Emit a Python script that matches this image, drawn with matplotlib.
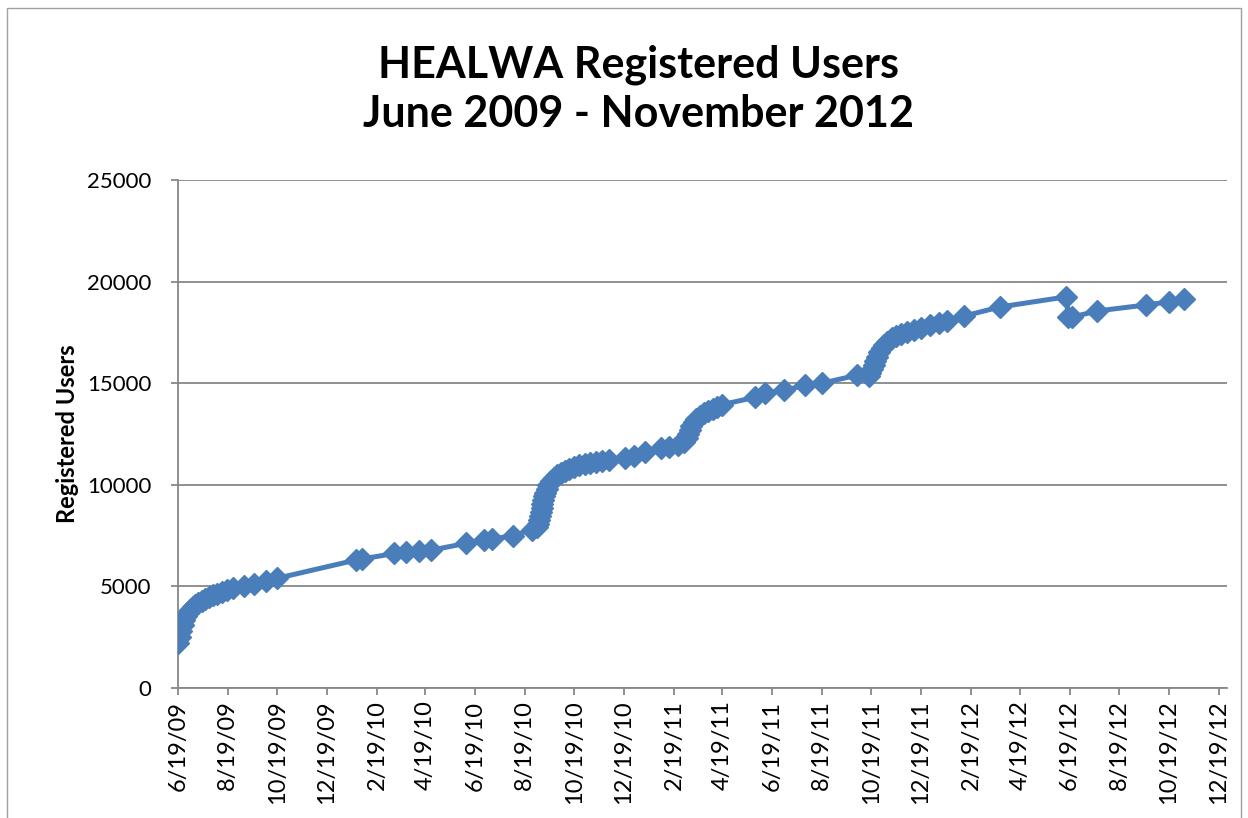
import matplotlib
matplotlib.use("Agg")
import matplotlib.pyplot as plt
import pandas as pd
from matplotlib.patches import Rectangle

# registration counts
dates = [
    "2009-06-19", "2009-06-21", "2009-06-23", "2009-06-25", "2009-06-27", "2009-06-29",
    "2009-07-01", "2009-07-04", "2009-07-07", "2009-07-10", "2009-07-14", "2009-07-18",
    "2009-07-22", "2009-07-27", "2009-08-01", "2009-08-06", "2009-08-12", "2009-08-18",
    "2009-08-26", "2009-09-08", "2009-09-20", "2009-10-05", "2009-10-19",
    "2010-01-24", "2010-01-31", "2010-03-12", "2010-03-26", "2010-04-11", "2010-04-26",
    "2010-06-08", "2010-06-30", "2010-07-10", "2010-08-05", "2010-08-28", "2010-09-03",
    "2010-09-05", "2010-09-06", "2010-09-07", "2010-09-08", "2010-09-09", "2010-09-10",
    "2010-09-11", "2010-09-12", "2010-09-13", "2010-09-15", "2010-09-17", "2010-09-20",
    "2010-09-24", "2010-09-28", "2010-10-03", "2010-10-08", "2010-10-13", "2010-10-19",
    "2010-10-25", "2010-11-01", "2010-11-08", "2010-11-15", "2010-11-22", "2010-12-01",
    "2010-12-20", "2010-12-31", "2011-01-14", "2011-02-03", "2011-02-13", "2011-02-24",
    "2011-03-03", "2011-03-06", "2011-03-08", "2011-03-10", "2011-03-12", "2011-03-15",
    "2011-03-18", "2011-03-22", "2011-03-27", "2011-04-01", "2011-04-07", "2011-04-12",
    "2011-04-19", "2011-05-29", "2011-06-11", "2011-07-04", "2011-07-30", "2011-08-20",
    "2011-10-02", "2011-10-16", "2011-10-18", "2011-10-20", "2011-10-22", "2011-10-24",
    "2011-10-26", "2011-10-29", "2011-11-01", "2011-11-04", "2011-11-08", "2011-11-13",
    "2011-11-19", "2011-11-25", "2011-12-02", "2011-12-10", "2011-12-19", "2011-12-30",
    "2012-01-10", "2012-01-20", "2012-02-10", "2012-03-25", "2012-06-15", "2012-06-17",
    "2012-06-22", "2012-07-22", "2012-09-21", "2012-10-19", "2012-11-07",
]
users = [
    2200, 2500, 2800, 3100, 3350, 3550,
    3700, 3850, 4000, 4100, 4200, 4300,
    4400, 4500, 4580, 4650, 4720, 4800,
    4900, 5000, 5100, 5250, 5400,
    6300, 6350, 6620, 6680, 6740, 6780,
    7120, 7280, 7330, 7500, 7800, 7900,
    8050, 8250, 8450, 8650, 8850, 9050,
    9250, 9450, 9600, 9800, 10000, 10200,
    10350, 10500, 10600, 10700, 10800, 10900,
    10950, 11000, 11050, 11100, 11150, 11200,
    11300, 11400, 11600, 11800, 11850, 11950,
    12100, 12300, 12500, 12700, 12900, 13100,
    13250, 13400, 13550, 13650, 13750, 13850,
    13950, 14300, 14500, 14650, 14900, 15000,
    15400, 15350, 15500, 15700, 15900, 16100,
    16300, 16550, 16750, 16900, 17050, 17200,
    17300, 17400, 17500, 17600, 17700, 17850,
    17950, 18050, 18300, 18750, 19250, 18250,
    18250, 18550, 18850, 19000, 19150,
]

x_start = "2009-06-19"
x_end = "2012-12-29"
tick_count = 22  # 6/19/09 .. 12/19/12, every two months
title = "HEALWA Registered Users\nJune 2009 - November 2012"
y_label = "Registered Users"

blue = "#4a7ebb"
grid_gray = "#878787"

x = pd.to_datetime(dates)

fig = plt.figure(figsize=(12.48, 8.18), dpi=100)
ax = fig.add_axes([0.1426, 0.1589, 0.983 - 0.1426, 0.78 - 0.1589])

ax.plot(x, users, color=blue, linewidth=3.6, marker="D", markersize=11,
        markerfacecolor=blue, markeredgecolor=blue, zorder=3)

ax.set_xlim(pd.Timestamp(x_start), pd.Timestamp(x_end))
ax.set_ylim(0, 25000)
ax.set_yticks(range(0, 25001, 5000))

ticks = pd.date_range(x_start, periods=tick_count, freq=pd.DateOffset(months=2))
ax.set_xticks(ticks)
ax.set_xticklabels([f"{t.month}/{t.day}/{t.strftime('%y')}" for t in ticks],
                   rotation=90, fontfamily="Lato", fontsize=17)
for lab in ax.get_yticklabels():
    lab.set_fontfamily("Lato")
    lab.set_fontsize(16)

ax.grid(axis="y", color=grid_gray, linewidth=1.3)
ax.set_axisbelow(True)
for side in ["top", "right"]:
    ax.spines[side].set_visible(False)
for side in ["left", "bottom"]:
    ax.spines[side].set_color(grid_gray)
    ax.spines[side].set_linewidth(1.3)
ax.tick_params(axis="x", color=grid_gray, width=1.3, length=5, pad=4)
ax.tick_params(axis="y", color=grid_gray, width=1.3, length=5, pad=14)

ax.set_ylabel(y_label, fontfamily="Lato", fontweight="bold", fontsize=17, labelpad=6)
fig.text(0.512, 0.945, title, ha="center", va="top", fontfamily="Lato",
         fontweight="bold", fontsize=31, linespacing=1.25)

# chart area border
fig.patches.append(Rectangle((0.006, -0.01), 0.988, 1.0, transform=fig.transFigure,
                             fill=False, edgecolor="#a0a0a0", linewidth=1))

fig.savefig("out.png", dpi=100)
